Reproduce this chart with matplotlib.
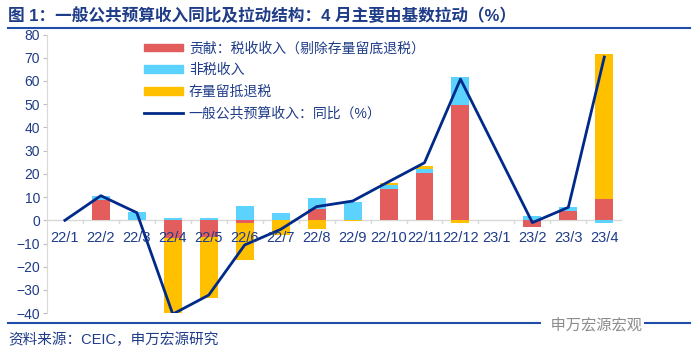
import numpy as np
import matplotlib
matplotlib.use("Agg")
import matplotlib.pyplot as plt
from matplotlib.lines import Line2D
from matplotlib.patches import Patch

plt.rcParams["font.family"] = ["Liberation Sans", "Noto Sans CJK SC", "DejaVu Sans"]

months = ["22/1", "22/2", "22/3", "22/4", "22/5", "22/6", "22/7", "22/8",
          "22/9", "22/10", "22/11", "22/12", "23/1", "23/2", "23/3", "23/4"]
tax = [0, 8.8, 0, -7.8, -7.3, -1.3, 0, 4.7, 0, 13.4, 20.5, 49.7, 0, -3.0, 4.0, 9.3]
nontax = [0, 1.8, 3.6, 1.1, 1.2, 6.3, 3.3, 4.8, 8.0, 1.7, 1.5, 12.1, 0, 1.9, 1.6, -1.0]
refund = [0, 0, 0, -32.6, -26.3, -15.8, -6.5, -3.9, -0.5, 1.0, 1.3, -1.3, 0, 0, 0, 62.4]
yoy = [0, 10.6, 3.3, -40.4, -32.2, -10.6, -3.9, 5.9, 8.3, 16.6, 24.8, 60.8,
       np.nan, -1.0, 5.6, 70.3]

series = [("贡献：税收收入（剔除存量留底退税）", tax, "#E35D5D"),
          ("非税收入", nontax, "#5CD2FF"),
          ("存量留抵退税", refund, "#FFC000")]
line_label = "一般公共预算收入：同比（%）"
navy = "#1F3C88"
line_c = "#002A8A"

fig = plt.figure(figsize=(7, 3.6), dpi=100)
ax = fig.add_axes([0.067, 0.130, 0.822, 0.774])

x = np.arange(len(months))
pos_base = np.zeros(len(months))
neg_base = np.zeros(len(months))
for name, vals, col in series:
    v = np.array(vals, dtype=float)
    base = np.where(v >= 0, pos_base, neg_base)
    ax.bar(x, v, 0.5, bottom=base, color=col, zorder=2)
    pos_base += np.where(v > 0, v, 0)
    neg_base += np.where(v < 0, v, 0)

# 23/1 has no value; the line joins 22/12 straight to 23/2
yv = np.array(yoy)
ok = ~np.isnan(yv)
ax.plot(x[ok], yv[ok], color=line_c, lw=2.0, zorder=3)

ax.set_xlim(-0.5, len(months) - 0.5)
ax.set_ylim(-40, 80)
ax.set_yticks(range(-40, 81, 10))
ax.tick_params(axis="y", colors="#BFBFBF", labelcolor=navy, labelsize=10, length=3, pad=2)

for s in ["top", "right", "bottom"]:
    ax.spines[s].set_visible(False)
ax.spines["left"].set_color("#D9D9D9")
ax.axhline(0, color="#D9D9D9", lw=1, zorder=1)
ax.set_xticks([])
for i in range(1, len(months)):
    ax.plot([i - 0.5, i - 0.5], [0, -1.3], color="#D9D9D9", lw=1, zorder=1)
for i, m in enumerate(months):
    ax.text(i, -7.4, m, ha="center", va="center", color=navy, fontsize=10.5, zorder=4)

handles = [Patch(color=c) for _, _, c in series] + [Line2D([], [], color=line_c, lw=2)]
labels = [n for n, _, _ in series] + [line_label]
leg = ax.legend(handles, labels, loc="upper left", bbox_to_anchor=(0.155, 1.005),
                frameon=False, fontsize=10, handlelength=2.8, handleheight=0.45,
                labelspacing=0.55, borderaxespad=0.2, handletextpad=0.4)
for t in leg.get_texts():
    t.set_color(navy)

fig.text(0.012, 0.955, "图 1：一般公共预算收入同比及拉动结构：4 月主要由基数拉动（%）",
         fontsize=12, fontweight="bold", color=navy, va="center")
fig.add_artist(Line2D([0.012, 0.986], [0.922, 0.922], color="#1F4EAA", lw=1.5))
fig.add_artist(Line2D([0.012, 0.986], [0.103, 0.103], color="#1F4EAA", lw=1.5))
fig.text(0.775, 0.097, "  申万宏源宏观", fontsize=11, color="#8C8C8C", va="center",
         bbox=dict(facecolor="white", edgecolor="none", pad=1))
fig.text(0.012, 0.055, "资料来源：CEIC，申万宏源研究", fontsize=10.5, color=navy, va="center")

fig.savefig("out.png", dpi=100)
